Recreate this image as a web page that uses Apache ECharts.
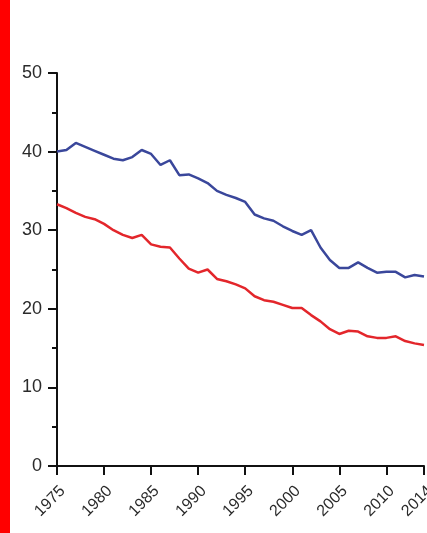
<!DOCTYPE html>
<html>
<head>
<meta charset="utf-8">
<script src="https://cdn.jsdelivr.net/npm/echarts@6/dist/echarts.min.js"></script>
<style>
  html, body { margin: 0; padding: 0; background: #fff; }
  #chart { width: 427px; height: 533px; }
</style>
</head>
<body>
<div id="chart"></div>
<script>
// Years on the x axis
const years = [];
for (let y = 1975; y <= 2014; y++) years.push(String(y));

// Upper series (blue)
const blueValues = [
  40.0, 40.2, 41.1, 40.6, 40.1, 39.6, 39.1, 38.9, 39.3, 40.2,
  39.7, 38.3, 38.9, 37.0, 37.1, 36.6, 36.0, 35.0, 34.5, 34.1,
  33.6, 32.0, 31.5, 31.2, 30.5, 29.9, 29.4, 30.0, 27.8, 26.2,
  25.2, 25.2, 25.9, 25.2, 24.6, 24.7, 24.7, 24.0, 24.3, 24.1
];

// Lower series (red)
const redValues = [
  33.3, 32.8, 32.2, 31.7, 31.4, 30.8, 30.0, 29.4, 29.0, 29.4,
  28.2, 27.9, 27.8, 26.4, 25.1, 24.6, 25.0, 23.8, 23.5, 23.1,
  22.6, 21.6, 21.1, 20.9, 20.5, 20.1, 20.1, 19.2, 18.4, 17.4,
  16.8, 17.2, 17.1, 16.5, 16.3, 16.3, 16.5, 15.9, 15.6, 15.4
];

// Years that carry a tick and a label
const labelledYears = ['1975', '1980', '1985', '1990', '1995', '2000', '2005', '2010', '2014'];

const chart = echarts.init(document.getElementById('chart'), null, { renderer: 'canvas' });

const showYear = (idx, val) => labelledYears.indexOf(val) !== -1;

chart.setOption({
  animation: false,
  backgroundColor: '#ffffff',
  graphic: [{
    type: 'rect',
    left: 0, top: 0,
    shape: { width: 10, height: 533 },
    style: { fill: '#ff0000' },
    silent: true
  }],
  grid: { left: 57, right: 3, top: 73, bottom: 67, containLabel: false, outerBoundsMode: 'none' },
  xAxis: {
    type: 'category',
    data: years,
    boundaryGap: false,
    axisLine: { lineStyle: { color: '#111', width: 2 } },
    axisTick: { show: true, interval: showYear, length: 9, lineStyle: { color: '#111', width: 2 } },
    axisLabel: {
      interval: showYear,
      rotate: 45,
      margin: 17,
      verticalAlign: 'top',
      fontSize: 16,
      fontFamily: 'Liberation Sans, Arial, sans-serif',
      color: '#2a2a2a'
    },
    splitLine: { show: false }
  },
  yAxis: {
    type: 'value',
    min: 0,
    max: 50,
    interval: 10,
    axisLine: { show: true, lineStyle: { color: '#111', width: 2 } },
    axisTick: { show: true, length: 9, lineStyle: { color: '#111', width: 2 } },
    minorTick: { show: true, splitNumber: 2, length: 5, lineStyle: { color: '#111', width: 2 } },
    axisLabel: {
      margin: 15,
      fontSize: 18,
      fontFamily: 'Liberation Sans, Arial, sans-serif',
      color: '#2a2a2a'
    },
    splitLine: { show: false }
  },
  series: [
    {
      type: 'line',
      data: blueValues,
      symbol: 'none',
      lineStyle: { color: '#3a479b', width: 2.5 },
      z: 3
    },
    {
      type: 'line',
      data: redValues,
      symbol: 'none',
      lineStyle: { color: '#e3262b', width: 2.5 },
      z: 3
    }
  ]
});
</script>
</body>
</html>
